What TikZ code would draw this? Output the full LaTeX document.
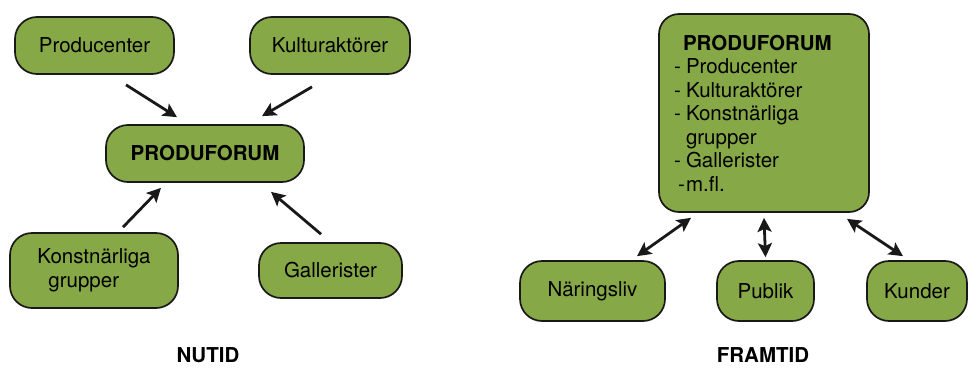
\documentclass[tikz,border=0pt]{standalone}
\usepackage{fontspec}
\setmainfont{TeX Gyre Heros}
\definecolor{BoxColor}{RGB}{134,168,70}
\definecolor{LineColor}{RGB}{25,25,25}
\usepackage{tikz}
\usetikzlibrary{positioning, arrows.meta}
\tikzstyle{box} = [draw=LineColor, line width=1.7pt, fill=BoxColor, rounded corners=22pt, align=center, inner sep=0pt]
\tikzstyle{arrow} = [line width=2.8pt, LineColor, -{Stealth[length=14pt, width=14pt, inset=3pt]}]
\tikzstyle{twoway} = [line width=2.8pt, LineColor, {Stealth[length=14pt, width=14pt, inset=3pt]}-{Stealth[length=14pt, width=14pt, inset=3pt]}]

\begin{document}
\begin{tikzpicture}[x=1pt, y=-1pt, every node/.style={font=\fontsize{20.5}{23.5}\selectfont}]
      \useasboundingbox (0,0) rectangle (968,367);

      % Nutid
      \node[box, minimum width=159pt, minimum height=57pt] (prod) at (94.5,45.5) {Producenter};
      \node[box, minimum width=160pt, minimum height=57pt] (kultur) at (330,45.5) {Kulturaktörer};
      \node[box, minimum width=198pt, minimum height=57pt] (forum) at (205,153.5) {\textbf{PRODUFORUM}};
      \node[box, minimum width=168pt, minimum height=75pt, align=left] (konst) at (94,270.5) {Konstnärliga\\\hspace*{11pt}grupper};
      \node[box, minimum width=143pt, minimum height=55pt] (galler) at (330.5,270.5) {Gallerister};
      \node[inner sep=1pt] (nutid) at (208,355) {\textbf{NUTID}};

      \draw[arrow] ([shift={(31.5,10)}]prod.south) -- ([shift={(-28,-7)}]forum.north);
      \draw[arrow] ([shift={(-18,12)}]kultur.south) -- ([shift={(57,-8)}]forum.north);
      \draw[arrow] ([shift={(29,-5)}]konst.north) -- ([shift={(-44,5)}]forum.south);
      \draw[arrow] ([shift={(-9.5,-8)}]galler.north) -- ([shift={(66,9)}]forum.south);

      % Framtid
      \node[box, rounded corners=20pt, minimum height=198pt, text width=180pt, inner xsep=15pt, align=left] (bigforum) at (764,113) {
        \hspace*{9pt}\textbf{PRODUFORUM}\\
        \makebox[12pt][l]{-}Producenter\\
        \makebox[12pt][l]{-}Kulturaktörer\\
        \makebox[12pt][l]{-}Konstnärliga\\
        \hspace*{12pt}grupper\\
        \makebox[12pt][l]{-}Gallerister\\
        \hspace*{4pt}\makebox[8pt][l]{-}m.fl.
      };
      \node[box, minimum width=145pt, minimum height=60pt] (naring) at (592.5,291) {Näringsliv};
      \node[box, minimum width=97pt, minimum height=60pt] (publik) at (765.5,291) {Publik};
      \node[box, minimum width=100pt, minimum height=60pt] (kunder) at (917,291) {Kunder};
      \node[inner sep=1pt] (framtid) at (763,355) {\textbf{FRAMTID}};

      \draw[twoway] ([shift={(44.5,-4)}]naring.north) -- ([shift={(-73,5)}]bigforum.south);
      \draw[twoway] ([shift={(0,-3)}]publik.north) -- ([shift={(0,5)}]bigforum.south);
      \draw[twoway] ([shift={(-14,-4)}]kunder.north) -- ([shift={(83,6)}]bigforum.south);
    \end{tikzpicture}
\end{document}
